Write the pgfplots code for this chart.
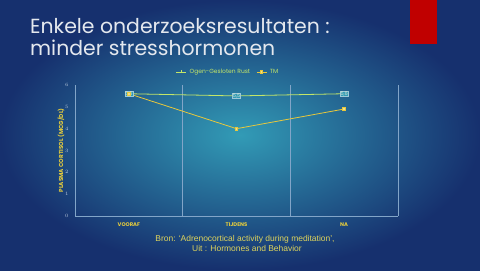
\documentclass[border=0pt]{standalone}
\usepackage{pgfplots}
\pgfplotsset{compat=1.18}
\usepackage{fontspec}
\setmainfont{Liberation Sans}
\newfontfamily\gothic{Poppins}
\definecolor{bgin}{RGB}{50,155,182}
\definecolor{bgout}{RGB}{22,48,110}
\definecolor{titlec}{RGB}{228,232,238}
\definecolor{srcc}{RGB}{222,212,92}
\definecolor{labc}{RGB}{230,205,60}
\definecolor{axc}{RGB}{130,165,200}
\definecolor{tickc}{RGB}{185,200,220}
\definecolor{greenl}{RGB}{195,230,105}
\definecolor{yell}{RGB}{232,200,60}
\definecolor{redbox}{RGB}{192,0,0}
\begin{document}
\begin{tikzpicture}[x=1bp,y=1bp]
\shade[inner color=bgin, outer color=bgout] (0,0) rectangle (480,270);
\fill[redbox] (410,226) rectangle (437,270);
\node[anchor=base west, inner sep=0, text=titlec, font=\gothic\fontsize{20.5}{24}\selectfont] at (30,237) {Enkele onderzoeksresultaten :};
\node[anchor=base west, inner sep=0, text=titlec, font=\gothic\fontsize{20.5}{24}\selectfont] at (30,215) {minder stresshormonen};
\node[anchor=base, inner sep=0, text=srcc, font=\fontsize{8.5}{10}\selectfont] at (245,29) {Bron: `Adrenocortical activity during meditation',};
\node[anchor=base, inner sep=0, text=srcc, font=\fontsize{8.5}{10}\selectfont] at (247,19) {Uit : Hormones and Behavior};
\begin{axis}[
  at={(75bp,54bp)}, anchor=south west, scale only axis,
  width=323bp, height=131bp,
  xmin=-0.5, xmax=2.5, ymin=0, ymax=6,
  ytick={0,1,2,3,4,5,6},
  xtick={0,1,2}, xticklabels={VOORAF,TIJDENS,NA},
  minor xtick={0.5,1.5,2.5}, xminorgrids,
  minor grid style={draw=axc, line width=0.7pt},
  axis x line*=bottom, axis y line*=left,
  axis line style={draw=axc, line width=0.7pt, -},
  major tick length=0pt, minor tick length=0pt,
  yticklabel style={text=tickc, font=\gothic\fontsize{5.5}{6}\selectfont, xshift=-3bp},
  xticklabel style={text=labc, font=\gothic\bfseries\fontsize{5.3}{6}\selectfont, yshift=-3bp},
  ylabel={PLASMA CORTISOL (MCG/DL)},
  ylabel style={text=labc, font=\gothic\bfseries\fontsize{5.8}{6}\selectfont, yshift=-6bp},
  legend style={at={(0.474,1.10)}, anchor=center, draw=none, fill=none,
    font=\gothic\fontsize{6}{7}\selectfont, text=greenl,
    /tikz/every even column/.append style={column sep=4bp},
    /tikz/every odd column/.append style={column sep=1bp}},
  legend columns=2,
  legend image code/.code={\draw[#1] (0bp,0bp) -- (10bp,0bp); \path[#1,mark repeat=1] plot coordinates {(5bp,0bp)};},
  clip=false,
]
\addplot[color=greenl, line width=0.8pt, mark=+, mark size=1.5pt,
  nodes near coords, point meta=explicit symbolic,
  every node near coord/.style={anchor=center, font=\gothic\fontsize{5}{6}\selectfont, text=titlec!80!greenl, inner sep=0.4pt, draw=titlec!60!bgin, line width=0.3pt, fill=bgin}]
  coordinates {(0,5.6) [5,6] (1,5.5) [5,5] (2,5.6) [5,6]};
\addlegendentry{Ogen-Gesloten Rust}
\addplot[color=yell, line width=0.8pt, mark=square*, mark size=1.3pt, mark options={fill=yell!60!white}]
  coordinates {(0,5.6) (1,4.0) (2,4.9)};
\addlegendentry{TM}
\end{axis}
\end{tikzpicture}
\end{document}
